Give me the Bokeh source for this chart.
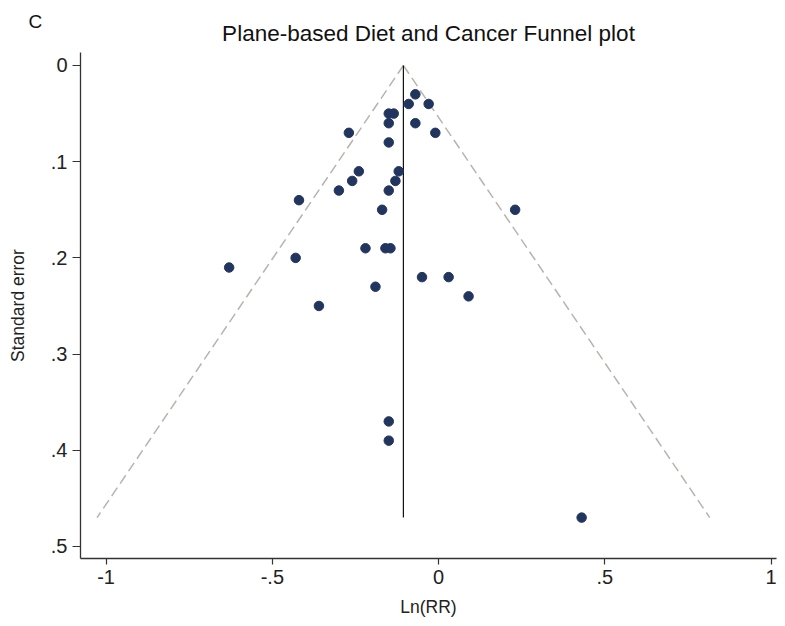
from bokeh.plotting import figure
from bokeh.models import Range1d, FixedTicker, Title
from bokeh.embed import file_html
from bokeh.resources import INLINE

# ---- data ----
ln_rr = [-0.07, -0.09, -0.03, -0.15, -0.135, -0.15, -0.07, -0.27, -0.01, -0.15,
         -0.24, -0.12, -0.26, -0.13, -0.30, -0.15, -0.42, -0.17, 0.23, -0.22,
         -0.16, -0.145, -0.43, -0.63, -0.05, 0.03, -0.19, 0.09, -0.36, -0.15,
         -0.15, 0.43]
std_err = [0.03, 0.04, 0.04, 0.05, 0.05, 0.06, 0.06, 0.07, 0.07, 0.08,
           0.11, 0.11, 0.12, 0.12, 0.13, 0.13, 0.14, 0.15, 0.15, 0.19,
           0.19, 0.19, 0.20, 0.21, 0.22, 0.22, 0.23, 0.24, 0.25, 0.37,
           0.39, 0.47]
pooled = -0.106
z_crit = 1.96

x_ticks = [-1, -0.5, 0, 0.5, 1]
x_tick_labels = ["-1", "-.5", "0", ".5", "1"]
y_ticks = [0, 0.1, 0.2, 0.3, 0.4, 0.5]
y_tick_labels = ["0", ".1", ".2", ".3", ".4", ".5"]

FONT = "Liberation Sans"
TXT = "#222222"

p = figure(width=780, height=620, output_backend="svg", toolbar_location=None,
           x_range=Range1d(-1.077, 1.016), y_range=Range1d(0.5125, -0.0135),
           min_border_left=80, min_border_right=4, min_border_top=52,
           min_border_bottom=62)

# outer title: panel letter "C"
p.title.text = "C"
p.title.align = "left"
p.title.offset = -52
p.title.standoff = -38
p.title.text_font = FONT
p.title.text_font_size = "19px"
p.title.text_font_style = "normal"
p.title.text_color = "#111111"

# inner title: chart title
p.add_layout(Title(text="Plane-based Diet and Cancer Funnel plot", align="center",
                   offset=4, standoff=13, text_font=FONT, text_font_size="22.5px",
                   text_font_style="normal", text_color="#111111"), "above")

p.outline_line_color = None
p.xgrid.grid_line_color = None
p.ygrid.grid_line_color = None
p.background_fill_color = "white"
p.border_fill_color = "white"

# axes
for ax in (p.xaxis[0], p.yaxis[0]):
    ax.axis_line_color = "#333333"
    ax.axis_line_width = 1.3
    ax.major_tick_line_color = "#333333"
    ax.major_tick_line_width = 1.2
    ax.minor_tick_line_color = None
    ax.major_tick_in = 0
    ax.major_label_text_font = FONT
    ax.major_label_text_font_size = "20px"
    ax.major_label_text_color = TXT
    ax.axis_label_text_font = FONT
    ax.axis_label_text_font_size = "17.5px"
    ax.axis_label_text_font_style = "normal"
    ax.axis_label_text_color = TXT

p.xaxis.ticker = FixedTicker(ticks=x_ticks)
p.xaxis.major_label_overrides = dict(zip(x_ticks, x_tick_labels))
p.xaxis.axis_label = "Ln(RR)"
p.xaxis.major_tick_out = 6
p.xaxis.major_label_standoff = 5
p.xaxis.axis_label_standoff = 10

p.yaxis.ticker = FixedTicker(ticks=y_ticks)
p.yaxis.major_label_overrides = dict(zip(y_ticks, y_tick_labels))
p.yaxis.axis_label = "Standard error"
p.yaxis.major_tick_out = 8
p.yaxis.major_label_standoff = 5
p.yaxis.axis_label_standoff = 20
p.yaxis.major_label_orientation = "horizontal"

# funnel (pseudo 95% confidence limits)
se_max = max(std_err)
p.line([pooled, pooled - z_crit * se_max], [0, se_max],
       line_color="#b8b3ad", line_width=1.5, line_dash="10 5")
p.line([pooled, pooled + z_crit * se_max], [0, se_max],
       line_color="#b8b3ad", line_width=1.5, line_dash="10 5")
# pooled estimate
p.line([pooled, pooled], [0, se_max], line_color="#111111", line_width=1.2)

# studies
p.scatter(ln_rr, std_err, size=9.5, marker="circle",
          fill_color="#22355e", line_color="#22355e")

open("out.html", "w").write(file_html(p, INLINE))
